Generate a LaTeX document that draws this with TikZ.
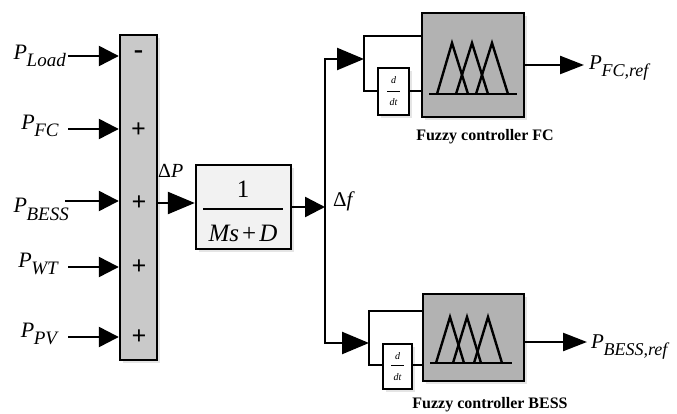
\documentclass[tikz,border=0pt]{standalone}
\usepackage{fontspec}
\setmainfont{Liberation Serif}
\usetikzlibrary{arrows.meta,shadows}
\newcommand\fs[1]{\fontsize{#1}{#1}\selectfont}
\newcommand\PPsub[3]{\fs{#1}\textit{P}\kern-0.5pt\raisebox{-7pt}{\fs{#2}\textit{#3}}}
\tikzset{
  wire/.style={line width=2.4pt},
  arr/.style={wire,-{Triangle[length=20pt,width=20pt]}},
  bigarr/.style={wire,-{Triangle[length=27pt,width=22pt]}},
  outarr/.style={wire,-{Triangle[length=24pt,width=18pt]}},
  blk/.style={draw,line width=2.4pt,inner sep=0pt,
    drop shadow={shadow xshift=3pt,shadow yshift=-3pt,fill=gray!40,opacity=0.5}},
  sign/.style={inner sep=0pt,font=\bfseries\fs{26}},
  lab/.style={inner sep=0pt},
  ctl/.style={inner sep=0pt,font=\bfseries\fs{16}},
  ddt/.style={inner sep=0pt,font=\itshape\fs{10}},
}
\begin{document}
\begin{tikzpicture}[x=1pt,y=-1pt]
\useasboundingbox (0,0) rectangle (677,414);

% summing block
\node[blk, fill=gray!42, minimum width=37pt, minimum height=325pt] (sum) at (138.5,197.5) {};
\node[sign, font=\bfseries\fs{28}] (s1) at (138.5,55) {-};
\node[sign] (s2) at (138.5,130) {+};
\node[sign] (s3) at (139,203) {+};
\node[sign] (s4) at (139,267) {+};
\node[sign] (s5) at (139,337) {+};

% inputs
\coordinate (iL) at (68,56);
\coordinate (iF) at (68,129);
\coordinate (iB) at (65,201);
\coordinate (iW) at (68,267);
\coordinate (iP) at (68,337);
\draw[arr] (iL) -- (iL -| sum.west);
\draw[arr] (iF) -- (iF -| sum.west);
\draw[arr] (iB) -- (iB -| sum.west);
\draw[arr] (iW) -- (iW -| sum.west);
\draw[arr] (iP) -- (iP -| sum.west);
\node[lab, anchor=base east] (lL) at (66,60) {\PPsub{22}{19}{Load}};
\node[lab, anchor=base east] (lF) at (59,130) {\PPsub{22}{19}{FC}};
\node[lab, anchor=base east] (lB) at (69,213) {\PPsub{22}{19}{BESS}};
\node[lab, anchor=base east] (lW) at (59,267) {\PPsub{22}{19}{WT}};
\node[lab, anchor=base east] (lP) at (59,337) {\PPsub{22}{19}{PV}};

% transfer function
\node[blk, fill=gray!10, minimum width=95pt, minimum height=84pt] (tf) at (243.5,207) {};
\node[lab, font=\fs{25}] (num) at (243,189) {1};
\draw[line width=1.3pt] (203,209) -- (283,209);
\node[lab, font=\fs{25}] (den) at (243,233) {\textit{Ms}\kern3pt+\kern3pt\textit{D}};
\coordinate (dpin) at (157,203);
\draw[bigarr] (dpin) -- (dpin -| tf.west);
\node[lab, anchor=base west, font=\fs{20}] (dP) at (158,178) {Δ\textit{P}};

% bus
\coordinate (bmid) at (325,207);
\coordinate (busT) at (325,59);
\coordinate (busB) at (325,343);
\coordinate (b1) at (364,59);
\coordinate (b2) at (369,343);
\draw[arr] (tf.east) -- (tf.east -| bmid);
\draw[bigarr] (bmid) -- (busT) -- (b1);
\draw[bigarr] (bmid) -- (busB) -- (b2);
\node[lab, anchor=base west, font=\fs{21}] (df) at (333,207) {Δ\textit{f}};

% fuzzy controller FC
\node[blk, fill=gray!60, minimum width=102pt, minimum height=104pt] (fz1) at (473,65) {};
\node[blk, fill=white, minimum width=31pt, minimum height=47pt] (dd1) at (393.5,91.5) {};
\coordinate (b1t) at (364,36);
\coordinate (b1b) at (364,91);
\draw[wire] (fz1.west |- b1t) -- (b1t) -- (b1b) -- (b1b -| dd1.west);
\draw[wire] (b1b -| dd1.east) -- (b1b -| fz1.west);
\node[ddt] (d1n) at (393.5,80) {d};
\draw[line width=0.7pt] (387,91) -- (400,91);
\node[ddt] (d1d) at (393.5,102) {dt};
\draw[wire] (429,94) -- (517,94);
\draw[wire] (437,94) -- (452,43) -- (468,94);
\draw[wire] (456,94) -- (472,43) -- (488,94);
\draw[wire] (476,94) -- (492,43) -- (508,94);
\coordinate (o1) at (584,65);
\draw[outarr] (fz1.east) -- (o1);
\node[lab, anchor=base west] (po1) at (589,70) {\PPsub{21}{18}{FC,ref}};
\node[ctl] (c1) at (485,137) {Fuzzy controller FC};

% fuzzy controller BESS
\node[blk, fill=gray!60, minimum width=101pt, minimum height=87pt] (fz2) at (473.5,337.5) {};
\node[blk, fill=white, minimum width=29pt, minimum height=45pt] (dd2) at (397.5,366.5) {};
\coordinate (b2t) at (369,311);
\coordinate (b2b) at (369,365);
\draw[wire] (fz2.west |- b2t) -- (b2t) -- (b2b) -- (b2b -| dd2.west);
\draw[wire] (b2b -| dd2.east) -- (b2b -| fz2.west);
\node[ddt] (d2n) at (397.5,356) {d};
\draw[line width=0.7pt] (391,365) -- (404,365);
\node[ddt] (d2d) at (397.5,377) {dt};
\draw[wire] (430,363) -- (512,363);
\draw[wire] (436,363) -- (450,317) -- (464,363);
\draw[wire] (453,363) -- (467,317) -- (481,363);
\draw[wire] (474,363) -- (488,317) -- (502,363);
\coordinate (o2) at (587,342);
\draw[outarr] (o2 -| fz2.east) -- (o2);
\node[lab, anchor=base west] (po2) at (591,348) {\PPsub{21}{18}{BESS,ref}};
\node[ctl] (c2) at (490,405) {Fuzzy controller BESS};
\end{tikzpicture}
\end{document}
